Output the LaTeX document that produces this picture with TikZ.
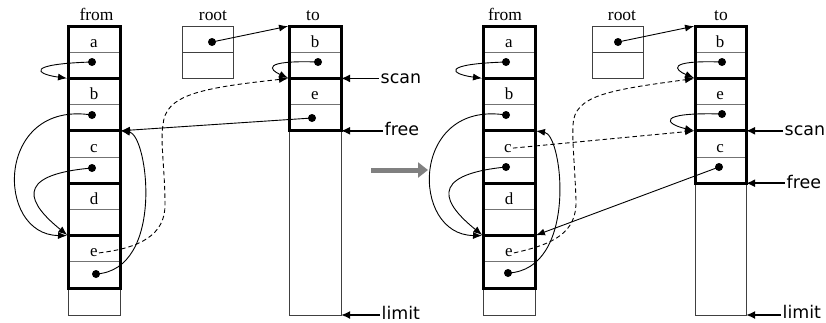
\documentclass[tikz,border=0pt]{standalone}
\usepackage{fontspec}
\setmainfont{Liberation Serif}
\newfontfamily\labfont{DejaVu Sans}
\usetikzlibrary{arrows.meta}
\begin{document}
\begin{tikzpicture}[x=1bp,y=-1bp,
  thinline/.style={line width=0.9bp, draw=black!55},
  boxline/.style={line width=0.9bp, draw=black!75},
  objbox/.style={line width=3bp, draw=black},
  ptr/.style={line width=0.9bp, -{Latex[length=9bp,width=7bp]}, shorten >=1bp},
  fwd/.style={ptr, dash pattern=on 4.5bp off 3bp},
  regarrow/.style={line width=1.8bp, -{Latex[length=9bp,width=8bp]}},
  ptdot/.style={circle, fill=black, inner sep=0pt, minimum size=8bp},
  cellname/.style={anchor=base, inner sep=1bp, font=\fontsize{17}{20}\selectfont},
  colname/.style={anchor=base, inner sep=1bp, font=\fontsize{17.5}{20}\selectfont},
  regname/.style={anchor=base west, inner sep=1.5bp, font=\labfont\fontsize{17.5}{20}\selectfont},
  bigarrow/.style={line width=5bp, draw=black!50, -{Triangle[length=10bp,width=15bp]}},
]
\useasboundingbox (0,0) rectangle (826,322);

%%%%%%%%%%%%%%%% LEFT PANEL %%%%%%%%%%%%%%%%
% from column
\draw[boxline] (68,26) rectangle (120,315);
\foreach \y in {52.2,104.6,157,209.4,261.8} \draw[thinline] (68,\y) -- (120,\y);
\foreach \t in {26,78.4,130.8,183.2,235.6} \draw[objbox] (68,\t) rectangle (120,\t+52.4);
% root
\draw[boxline] (182,26) rectangle (233,78);
\draw[boxline] (182,52) -- (233,52);
% to column
\draw[boxline] (289,26) rectangle (341,315);
\foreach \y in {52.2,104.6} \draw[thinline] (289,\y) -- (341,\y);
\foreach \t in {26,78.4} \draw[objbox] (289,\t) rectangle (341,\t+52.4);

\node[colname] (Lfrom) at (96.5,20) {from};
\node[colname] (Lroot) at (213,20) {root};
\node[colname] (Lto) at (313,20) {to};

\node[cellname] (Lfa) at (94,47.2) {a};
\node[cellname] (Lfb) at (94,99.6) {b};
\node[cellname] (Lfc) at (94,152) {c};
\node[cellname] (Lfd) at (94,204.4) {d};
\node[cellname] (Lfe) at (94,256.8) {e};
\node[cellname] (Ltb) at (315,47.2) {b};
\node[cellname] (Lte) at (315,99.6) {e};

\node[ptdot] (Lfap) at (92,62) {};
\node[ptdot] (Lfbp) at (92,115) {};
\node[ptdot] (Lfcp) at (92,168) {};
\node[ptdot] (Lfep) at (96,274) {};
\node[ptdot] (Lrtp) at (212,42) {};
\node[ptdot] (Ltbp) at (318,62) {};
\node[ptdot] (Ltep) at (312,118) {};

\coordinate (LfbTL) at (68,78.4);
\coordinate (LfeTL) at (68,235.6);
\coordinate (LfcTR) at (120,130.8);
\coordinate (LtTL) at (289,26);
\coordinate (LteTL) at (289,78.4);
\coordinate (LteTR) at (341,78.4);
\coordinate (LfreeR) at (341,130.8);
\coordinate (LlimR) at (341,315);

\draw[ptr] (Lfap.center) .. controls (25,64) and (35,74) .. (LfbTL);
\draw[ptr] (Lfbp.center) .. controls (-5,100) and (-5,235) .. (LfeTL);
\draw[ptr] (Lfcp.center) .. controls (10,175) and (30,205) .. (LfeTL);
\draw[ptr] (Lfep.center) .. controls (165,270) and (148,135) .. (LfcTR);
\draw[ptr] (Ltep.center) -- (LfcTR);
\draw[fwd] (Lfe.east) .. controls (140,248) and (165,235) .. (165,205)
  .. controls (165,170) and (160,140) .. (163,125)
  .. controls (165,95) and (200,88) .. (LteTL);
\draw[ptr] (Lrtp.center) -- (LtTL);
\draw[ptr] (Ltbp.center) .. controls (260,60) and (270,70) .. (LteTL);

\node[regname] (Lscan) at (379,83) {scan};
\node[regname] (Lfree) at (383,135.5) {free};
\node[regname] (Llimit) at (380,319) {limit};
\draw[regarrow] (Lscan.west |- LteTR) -- (LteTR);
\draw[regarrow] (Lfree.west |- LfreeR) -- (LfreeR);
\draw[regarrow] (Llimit.west |- LlimR) -- (LlimR);

% transition arrow
\coordinate (GA) at (371,170);
\coordinate (GB) at (428,170);
\draw[bigarrow] (GA) -- (GB);

%%%%%%%%%%%%%%%% RIGHT PANEL %%%%%%%%%%%%%%%%
\draw[boxline] (483,26) rectangle (535,315);
\foreach \y in {52.2,104.6,157,209.4,261.8} \draw[thinline] (483,\y) -- (535,\y);
\foreach \t in {26,78.4,130.8,183.2,235.6} \draw[objbox] (483,\t) rectangle (535,\t+52.4);
\draw[boxline] (592,26) rectangle (643,78);
\draw[boxline] (592,52) -- (643,52);
\draw[boxline] (695,26) rectangle (746,315);
\foreach \y in {52.2,104.6,157} \draw[thinline] (695,\y) -- (746,\y);
\foreach \t in {26,78.4,130.8} \draw[objbox] (695,\t) rectangle (746,\t+52.4);

\node[colname] (Rfrom) at (505,20) {from};
\node[colname] (Rroot) at (622,20) {root};
\node[colname] (Rto) at (721,20) {to};

\node[cellname] (Rfa) at (509,47.2) {a};
\node[cellname] (Rfb) at (509,99.6) {b};
\node[cellname] (Rfc) at (508,152) {c};
\node[cellname] (Rfd) at (509,204.4) {d};
\node[cellname] (Rfe) at (509,256.8) {e};
\node[cellname] (Rtb) at (720,47.2) {b};
\node[cellname] (Rte) at (720,99.6) {e};
\node[cellname] (Rtc) at (720,152) {c};

\node[ptdot] (Rfap) at (506,62) {};
\node[ptdot] (Rfbp) at (506,115) {};
\node[ptdot] (Rfcp) at (506,167) {};
\node[ptdot] (Rfep) at (508,273) {};
\node[ptdot] (Rrtp) at (618,42) {};
\node[ptdot] (Rtbp) at (722,62) {};
\node[ptdot] (Rtep) at (722,114) {};
\node[ptdot] (Rtcp) at (719,167) {};

\coordinate (RfbTL) at (483,78.4);
\coordinate (RfeTL) at (483,235.6);
\coordinate (RfcTR) at (535,130.8);
\coordinate (RfeTR) at (535,235.6);
\coordinate (RtTL) at (695,26);
\coordinate (RteTL) at (695,78.4);
\coordinate (RtcTL) at (695,130.8);
\coordinate (RtcTR) at (746,130.8);
\coordinate (RfreeR) at (746,183.2);
\coordinate (RlimR) at (746,315);

\draw[ptr] (Rfap.center) .. controls (440,64) and (450,74) .. (RfbTL);
\draw[ptr] (Rfbp.center) .. controls (410,100) and (410,235) .. (RfeTL);
\draw[ptr] (Rfcp.center) .. controls (425,175) and (445,205) .. (RfeTL);
\draw[ptr] (Rfep.center) .. controls (578,270) and (563,135) .. (RfcTR);
\draw[ptr] (Rtcp.center) -- (RfeTR);
\draw[fwd] (Rfc.east) -- (RtcTL);
\draw[fwd] (Rfe.east) .. controls (555,244) and (577,232) .. (576,200)
  .. controls (575,170) and (572,140) .. (573,125)
  .. controls (574,95) and (610,90) .. (RteTL);
\draw[ptr] (Rrtp.center) -- (RtTL);
\draw[ptr] (Rtbp.center) .. controls (665,60) and (675,70) .. (RteTL);
\draw[ptr] (Rtep.center) .. controls (655,112) and (665,124) .. (RtcTL);

\node[regname] (Rscan) at (783,135.5) {scan};
\node[regname] (Rfree) at (785,188) {free};
\node[regname] (Rlimit) at (781,318.5) {limit};
\draw[regarrow] (Rscan.west |- RtcTR) -- (RtcTR);
\draw[regarrow] (Rfree.west |- RfreeR) -- (RfreeR);
\draw[regarrow] (Rlimit.west |- RlimR) -- (RlimR);
\end{tikzpicture}
\end{document}
